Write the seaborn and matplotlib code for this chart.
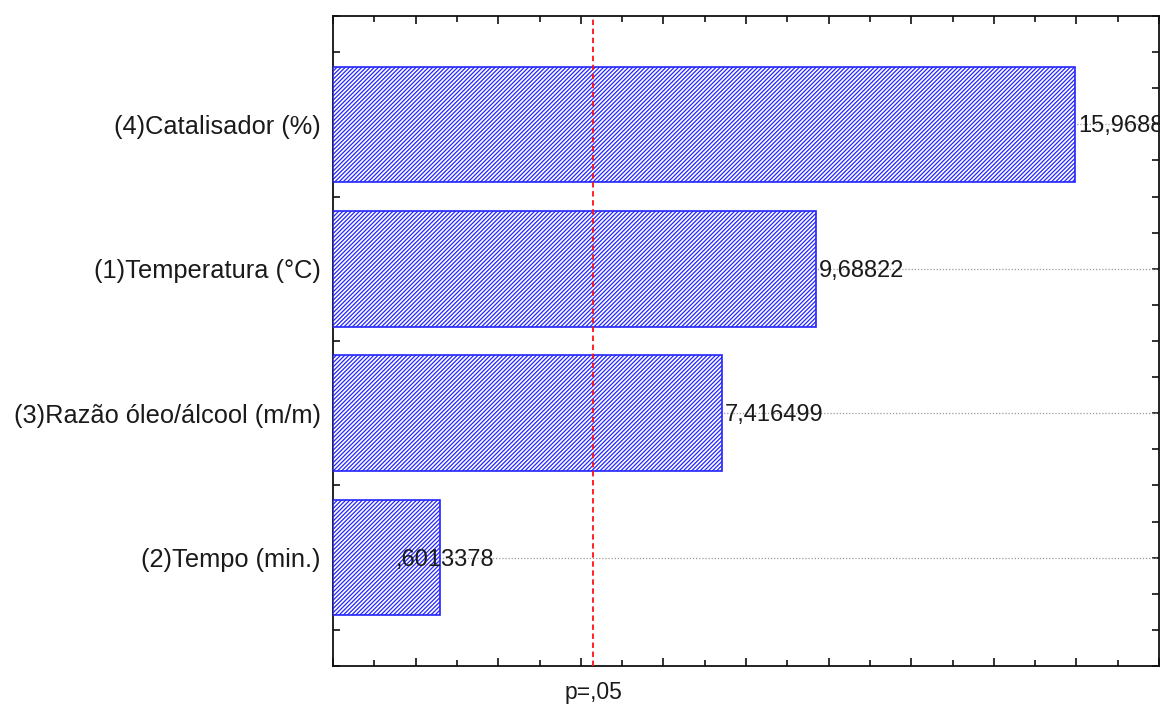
import matplotlib
matplotlib.use("Agg")
import matplotlib.pyplot as plt
from matplotlib.ticker import MultipleLocator, NullFormatter
import seaborn as sns
import pandas as pd

# ---- data ----
categories = ["(4)Catalisador (%)", "(1)Temperatura (°C)",
              "(3)Razão óleo/álcool (m/m)", "(2)Tempo (min.)"]
effects = [15.96888, 9.68822, 7.416499, 0.6013378]
p_critical = 4.303
p_label = "p=,05"

XMIN, XMAX = -2, 18

sns.set_theme(style="white")
plt.rcParams["font.family"] = ["Liberation Sans", "DejaVu Sans"]
plt.rcParams["hatch.linewidth"] = 0.9

df = pd.DataFrame({"factor": categories, "effect": effects})

fig = plt.figure(figsize=(11.6, 7.04), dpi=100)
ax = fig.add_axes([333 / 1160, 1 - 666 / 704, (1159 - 333) / 1160, (666 - 16) / 704])

sns.barplot(data=df, x="effect", y="factor", orient="h", ax=ax,
            color="white", saturation=1, edgecolor="#2424ff",
            linewidth=1.2, hatch="////////", width=0.8, zorder=3)

# Statistica-style: bars start at the left edge of the axis
for patch in ax.patches:
    w = patch.get_width()
    patch.set_x(XMIN)
    patch.set_width(w - XMIN)

ax.set_xlim(XMIN, XMAX)
ax.set_ylim(len(categories) - 0.25, -0.75)

# horizontal dotted guides through category centres
for i in range(len(categories)):
    ax.axhline(i, color="#9a9a9a", linestyle=(0, (1, 1.5)), linewidth=0.9, zorder=1)

# significance line
ax.axvline(p_critical, color="#ff1010", linestyle=(0, (3, 2)), linewidth=1.3, zorder=4)
ax.annotate(p_label, xy=(p_critical, 0), xycoords=("data", "axes fraction"),
            xytext=(0, -19), textcoords="offset points", ha="center", va="center",
            fontsize=16.5, color="#1a1a1a")

# value labels
for i, v in enumerate(effects):
    s = f"{v:.7g}"
    if s.startswith("0."):
        s = s[1:]
    s = s.replace(".", ",")
    dx = 2 if v >= 1 else -32
    ax.annotate(s, xy=(v, i), xytext=(dx, -1.5), textcoords="offset points",
                ha="left", va="center", fontsize=17, color="#1a1a1a",
                zorder=5, annotation_clip=False)

# ticks
ax.xaxis.set_major_locator(MultipleLocator(2))
ax.xaxis.set_minor_locator(MultipleLocator(1))
ax.xaxis.set_major_formatter(NullFormatter())
ax.yaxis.set_minor_locator(MultipleLocator(0.25))
ax.tick_params(axis="both", which="both", direction="in", top=True, right=True,
               bottom=True, left=True, color="#111111", width=1.2)
ax.tick_params(axis="x", which="major", length=6)
ax.tick_params(axis="x", which="minor", length=4)
ax.tick_params(axis="y", which="both", length=5)
ax.tick_params(axis="y", which="major", labelsize=18.3, pad=9, labelcolor="#1a1a1a")
ax.set_xlabel("")
ax.set_ylabel("")

for sp in ax.spines.values():
    sp.set_visible(True)
    sp.set_color("#111111")
    sp.set_linewidth(1.3)

fig.savefig("out.png", dpi=100, facecolor="white")
